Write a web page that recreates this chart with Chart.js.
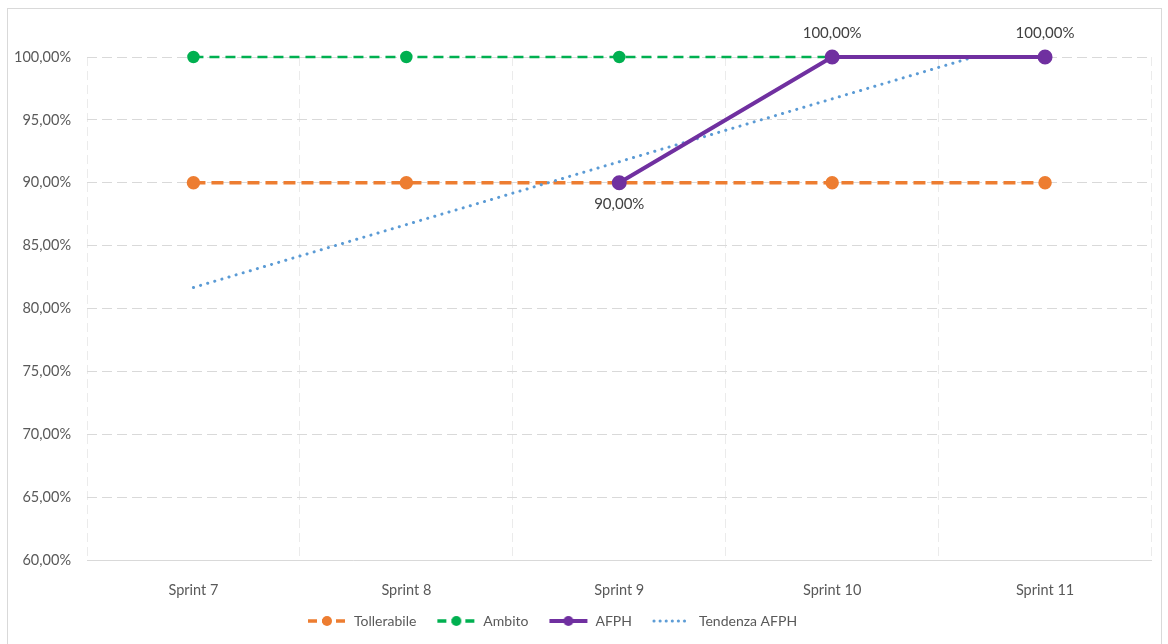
<!DOCTYPE html>
<html>
<head>
<meta charset="utf-8">
<script src="https://cdn.jsdelivr.net/npm/chart.js@4"></script>
<style>
    body { margin: 0; background: #fff; }
    #box { position: absolute; left: 7px; top: 8px; width: 1153px; height: 640px; border: 1px solid #d9d9d9; }
    #chart { display: block; }
</style>
</head>
<body>
<div id="box"><canvas id="chart" width="1153" height="640"></canvas></div>
<script>
const sprints = ['Sprint 7', 'Sprint 8', 'Sprint 9', 'Sprint 10', 'Sprint 11'];
const tollerabile = [90, 90, 90, 90, 90];
const ambito = [100, 100, 100, 100, 100];
const afph = [null, null, 90, 100, 100];
const tendenzaAfph = [81.67, 86.67, 91.67, 96.67, 101.67];

const fontFamily = "Lato, 'Open Sans', sans-serif";
const textColor = '#595959';

function pct(v) {
    return v.toFixed(2).replace('.', ',') + '%';
}

// little legend pictures: line + dot like the office legend
function legendIcon(color, width, dash, dot) {
    const c = document.createElement('canvas');
    c.width = 40;
    c.height = 14;
    const g = c.getContext('2d');
    g.strokeStyle = color;
    g.lineWidth = width;
    g.setLineDash(dash);
    if (!dot) g.lineCap = 'round';
    g.beginPath();
    g.moveTo(dot ? 1 : 2, 7);
    g.lineTo(dot ? 39 : 38, 7);
    g.stroke();
    if (dot) {
        g.fillStyle = color;
        g.beginPath();
        g.arc(20, 7, 5, 0, Math.PI * 2);
        g.fill();
    }
    return c;
}

const valueLabels = {
    id: 'valueLabels',
    afterDatasetsDraw(chart) {
        const ctx = chart.ctx;
        const meta = chart.getDatasetMeta(2);
        ctx.save();
        ctx.font = '15px ' + fontFamily;
        ctx.fillStyle = '#404040';
        ctx.textAlign = 'center';
        ctx.textBaseline = 'middle';
        meta.data.forEach((pt, i) => {
            const v = afph[i];
            if (v === null) return;
            const dy = v < 100 ? 21 : -24;
            ctx.fillText(pct(v), pt.x, pt.y + dy);
        });
        ctx.restore();
    }
};

// move the legend where the original has it
const legendPlace = {
    id: 'legendPlace',
    beforeDraw(chart) {
        const lg = chart.legend;
        const h = lg.bottom - lg.top;
        lg.left = 279;
        lg.top = 585;
        lg.bottom = lg.top + h;
    }
};

const ctx = document.getElementById('chart').getContext('2d');
const chart = new Chart(ctx, {
    type: 'line',
    data: {
        labels: sprints,
        datasets: [{
            label: 'Tollerabile',
            data: tollerabile,
            borderColor: '#ED7D31',
            backgroundColor: '#ED7D31',
            borderWidth: 3.5,
            borderDash: [12, 6],
            pointRadius: 5,
            pointHoverRadius: 5,
            clip: false,
            order: 3
        }, {
            label: 'Ambito',
            data: ambito,
            borderColor: '#00B050',
            backgroundColor: '#00B050',
            borderWidth: 2.5,
            borderDash: [10, 6],
            pointRadius: 5,
            pointHoverRadius: 5,
            clip: false,
            order: 2
        }, {
            label: 'AFPH',
            data: afph,
            borderColor: '#7030A0',
            backgroundColor: '#7030A0',
            borderWidth: 4,
            pointRadius: 5.5,
            pointHoverRadius: 5.5,
            clip: false,
            order: 0
        }, {
            label: 'Tendenza AFPH',
            data: tendenzaAfph,
            borderColor: '#5B9BD5',
            backgroundColor: '#5B9BD5',
            borderWidth: 3,
            borderDash: [0.1, 7.3],
            borderCapStyle: 'round',
            pointRadius: 0,
            pointHoverRadius: 0,
            order: 1
        }]
    },
    options: {
        responsive: false,
        animation: false,
        layout: {
            padding: { top: 48, right: 7, left: 0, bottom: 3 }
        },
        scales: {
            x: {
                offset: true,
                grid: {
                    offset: true,
                    color: '#ebebeb',
                    drawTicks: false
                },
                border: { display: true, color: '#d9d9d9', width: 1, dash: [9, 5] },
                ticks: {
                    color: textColor,
                    font: { family: fontFamily, size: 14.5 },
                    padding: 22
                },
                afterFit(scale) { scale.height = 42; }
            },
            y: {
                min: 60,
                max: 100,
                ticks: {
                    stepSize: 5,
                    color: textColor,
                    font: { family: fontFamily, size: 14.5 },
                    padding: 16,
                    callback: v => pct(v)
                },
                grid: {
                    color: '#d9d9d9',
                    drawTicks: false
                },
                border: { display: false, dash: [10, 5] },
                afterFit(scale) { scale.width = 79; }
            }
        },
        plugins: {
            legend: {
                position: 'bottom',
                align: 'start',
                labels: {
                    usePointStyle: true,
                    pointStyleWidth: 40,
                    boxHeight: 14,
                    color: textColor,
                    font: { family: fontFamily, size: 14 },
                    padding: 20,
                    generateLabels(chart) {
                        const icons = [
                            legendIcon('#ED7D31', 3.5, [9, 5], true),
                            legendIcon('#00B050', 3.5, [9, 5], true),
                            legendIcon('#7030A0', 4, [], true),
                            legendIcon('#5B9BD5', 3, [0.1, 6], false)
                        ];
                        return chart.data.datasets.map((ds, i) => ({
                            text: ds.label,
                            fontColor: textColor,
                            pointStyle: icons[i],
                            datasetIndex: i,
                            hidden: false,
                            lineWidth: 0
                        }));
                    }
                }
            },
            tooltip: { enabled: false }
        }
    },
    plugins: [valueLabels, legendPlace]
});
</script>
</body>
</html>
